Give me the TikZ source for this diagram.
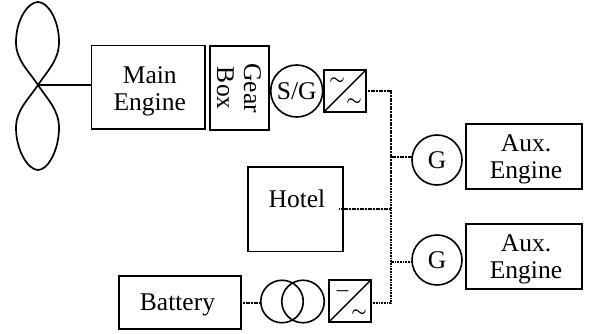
\documentclass[tikz,border=0pt]{standalone}
\usepackage{fontspec}
\setmainfont{Liberation Serif}
\usetikzlibrary{positioning}
\newcommand{\dropline}[1]{\rule{0pt}{#1}}
\tikzstyle{block}=[rectangle, draw, line width=1.3pt, outer sep=0pt, inner sep=0pt,
		text centered, align=center, font=\fontsize{25.5}{27}\selectfont]
\tikzstyle{heavy}=[block, line width=2pt]
\tikzstyle{machine}=[circle, draw, line width=1.6pt, outer sep=0pt, inner sep=0pt,
		minimum size=50pt, font=\fontsize{25.5}{27}\selectfont]
\tikzstyle{coil}=[circle, draw, line width=1.6pt, outer sep=0pt, inner sep=0pt,
		minimum size=42.5pt]
\tikzstyle{conv}=[rectangle, draw, line width=2pt, outer sep=0pt, inner sep=0pt,
		minimum size=42pt]
\tikzstyle{symb}=[inner sep=0pt, font=\fontsize{18}{18}\selectfont\boldmath]
\tikzstyle{line}=[-, line width=1.7pt]
\tikzstyle{bus}=[-, line width=2pt, dash pattern=on 1.1pt off 0.5pt]

\begin{document}
\begin{tikzpicture}[x=1pt,y=-1pt]
    \useasboundingbox (0,0) rectangle (589,334);

    \node (Main) [block, minimum width=113.5pt, minimum height=83.5pt]
    	at (148.25,87.25) {\hspace*{3pt}\dropline{25pt}Main\\\hspace*{3pt}Engine};
    \node (Gear) [heavy, minimum width=84pt, minimum height=59pt, rotate=-90]
    	at (239,88.25) {Gear\\Box};
    \node (SG) [machine, minimum size=52pt] at (296.7,91) {S/G};
    \node (ConvAC) [conv] at (345,90.9) {};
    \node (TildeA) [symb] at (337,81) {$\sim$};
    \node (TildeB) [symb] at (354,101.7) {$\sim$};

    \node (Hotel) [block, minimum width=95pt, minimum height=84.7pt]
    	at (295.5,209.35) {};
    \node (HotelText) [font=\fontsize{25.5}{27}\selectfont, inner sep=0pt]
    	at (297,199) {Hotel};

    \node (GenA) [machine, minimum size=50pt] at (437,160) {G};
    \node (GenB) [machine, minimum size=50pt] at (437,260) {G};
    \node (AuxA) [block, minimum width=116pt, minimum height=65pt]
    	at (524,156.5) {\hspace*{4pt}\dropline{23pt}Aux.\\\hspace*{4pt}Engine};
    \node (AuxB) [block, minimum width=116pt, minimum height=65pt]
    	at (524,256.6) {\hspace*{4pt}\dropline{23pt}Aux.\\\hspace*{4pt}Engine};

    \node (Battery) [block, minimum width=122pt, minimum height=53pt]
    	at (180,302.5) {\dropline{22pt}Battery\hspace*{5pt}};
    \node (CoilA) [coil] at (282,301.5) {};
    \node (CoilB) [coil] at (303,301.5) {};
    \node (ConvDC) [conv] at (349.9,301) {};
    \node (Minus) [symb] at (342.7,291) {$-$};
    \node (TildeC) [symb] at (359,312.7) {$\sim$};

    \coordinate (Hub) at (38,85);
    \coordinate (BusEnd) at (391,303);

    % propeller
    \draw [line width=1.7pt] (Hub) .. controls (28,70) and (16,60) .. (16,42)
    	.. controls (16,20) and (28,2) .. (38,2)
    	.. controls (48,2) and (59,20) .. (59,42)
    	.. controls (59,60) and (48,70) .. (Hub)
    	.. controls (28,100) and (16,110) .. (16,128)
    	.. controls (16,150) and (28,170) .. (38,170)
    	.. controls (48,170) and (59,150) .. (59,128)
    	.. controls (59,110) and (48,100) .. (Hub) -- cycle;
    \draw [line] (Hub) -- (Hub -| Main.west);

    \draw [line width=1.5pt] (ConvAC.south west) -- (ConvAC.north east);
    \draw [line width=1.5pt] (ConvDC.south west) -- (ConvDC.north east);

    % electrical bus
    \draw [bus] (ConvAC.east) -| (BusEnd);
    \draw [bus] (ConvDC.east |- BusEnd) -- (BusEnd);
    \draw [bus] ([xshift=-4pt]Hotel.east) -- (Hotel.east -| BusEnd);
    \draw [bus] (GenA.173) -- (GenA.173 -| BusEnd);
    \draw [bus] (GenB.184) -- (GenB.184 -| BusEnd);
    \draw [bus] (Battery.east) -- (Battery.east -| CoilA.west);
\end{tikzpicture}
\end{document}
